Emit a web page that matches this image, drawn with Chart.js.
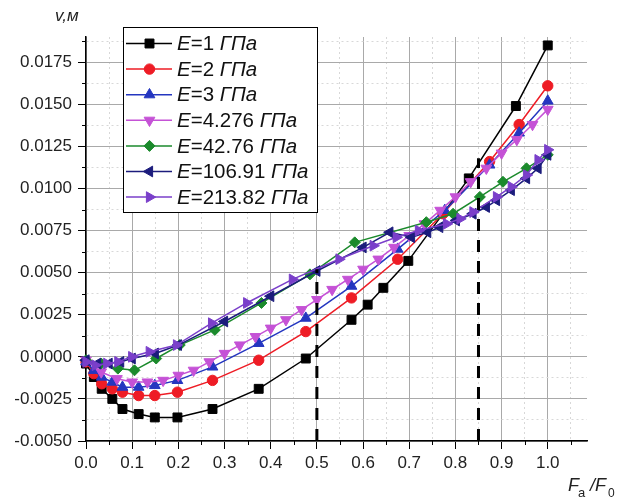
<!DOCTYPE html>
<html>
<head>
<meta charset="utf-8">
<script src="https://cdn.jsdelivr.net/npm/chart.js"></script>
<style>
  body { margin: 0; background: #fff; }
</style>
</head>
<body>
<canvas id="deflectionChart" width="624" height="498"></canvas>
<script>
// Moduli shown in the legend (GPa)
const moduli = ['1', '2', '3', '4.276', '42.76', '106.91', '213.82'];

// E = 1 GPa
const blackX = [0, 0.017, 0.034, 0.057, 0.079, 0.114, 0.149, 0.198, 0.274, 0.374, 0.476, 0.575, 0.610, 0.644, 0.698, 0.829, 0.931, 1.0];
const blackY = [-0.0004, -0.0012, -0.0019, -0.0025, -0.0031, -0.0034, -0.0036, -0.0036, -0.0031, -0.0019, -0.0001, 0.0022, 0.0031, 0.0041, 0.0057, 0.0106, 0.0149, 0.0185];

// E = 2 GPa
const redX = [0, 0.017, 0.034, 0.057, 0.079, 0.114, 0.149, 0.198, 0.274, 0.374, 0.476, 0.575, 0.675, 0.773, 0.874, 0.938, 1.0];
const redY = [-0.0003, -0.0010, -0.0016, -0.0019, -0.0021, -0.0023, -0.0023, -0.0021, -0.0014, -0.0002, 0.0015, 0.0035, 0.0058, 0.0085, 0.0116, 0.0138, 0.0161];

// E = 3 GPa
const blueX = [0, 0.017, 0.034, 0.057, 0.079, 0.114, 0.149, 0.198, 0.274, 0.374, 0.476, 0.575, 0.675, 0.777, 0.874, 0.938, 1.0];
const blueY = [-0.0003, -0.0008, -0.0012, -0.0015, -0.0018, -0.0018, -0.0017, -0.0014, -0.0006, 0.0008, 0.0023, 0.0042, 0.0064, 0.0087, 0.0114, 0.0133, 0.0152];

// E = 4.276 GPa
const magentaX = [0, 0.033, 0.067, 0.1, 0.133, 0.167, 0.2, 0.233, 0.267, 0.3, 0.333, 0.367, 0.4, 0.433, 0.467, 0.5,
                  0.533, 0.567, 0.6, 0.633, 0.667, 0.7, 0.733, 0.767, 0.8, 0.833, 0.867, 0.9, 0.933, 0.967, 1.0];
const magentaY = [-0.0002, -0.0009, -0.0013, -0.0015, -0.0015, -0.0014, -0.0011, -0.0008, -0.0003, 0.0002, 0.0007, 0.0012, 0.0017, 0.0022, 0.0028, 0.0034,
                  0.0040, 0.0046, 0.0052, 0.0058, 0.0065, 0.0072, 0.0079, 0.0087, 0.0095, 0.0104, 0.0112, 0.0121, 0.0129, 0.0138, 0.0147];

// E = 42.76 GPa
const greenX = [0, 0.033, 0.069, 0.105, 0.152, 0.203, 0.279, 0.38, 0.485, 0.582, 0.737, 0.795, 0.853, 0.903, 0.954, 1.0];
const greenY = [-0.0002, -0.0004, -0.0007, -0.0008, -0.0001, 0.0007, 0.0016, 0.0032, 0.0049, 0.0068, 0.0080, 0.0085, 0.0095, 0.0104, 0.0112, 0.0120];

// E = 106.91 GPa
const navyX = [0, 0.025, 0.05, 0.075, 0.1, 0.15, 0.2, 0.3, 0.4, 0.5, 0.6, 0.658, 0.705, 0.74, 0.766, 0.802, 0.838, 0.867, 0.889, 0.921, 0.954, 0.979, 1.0];
const navyY = [-0.0002, -0.0004, -0.0004, -0.0003, -0.0001, 0.0002, 0.0007, 0.0021, 0.0036, 0.0051, 0.0065, 0.0074, 0.0071, 0.0074, 0.0077, 0.0081, 0.0085, 0.0089, 0.0093, 0.0099, 0.0106, 0.0112, 0.0120];

// E = 213.82 GPa
const purpleX = [0, 0.02, 0.045, 0.069, 0.099, 0.137, 0.196, 0.272, 0.348, 0.447, 0.548, 0.622, 0.672, 0.72, 0.781, 0.81, 0.838, 0.889, 0.921, 0.954, 0.979, 1.0];
const purpleY = [-0.0003, -0.0005, -0.0004, -0.0003, 0.0000, 0.0003, 0.0007, 0.0020, 0.0032, 0.0046, 0.0058, 0.0066, 0.0071, 0.0075, 0.0079, 0.0082, 0.0086, 0.0095, 0.0101, 0.0108, 0.0117, 0.0123];

// vertical dashed markers
const markerX = [0.5, 0.85];
const markerTop = [0.0052, 0.0118];

const FONT = '"Liberation Sans", Arial, sans-serif';

function zip(xs, ys) {
    return xs.map((x, i) => ({ x: x, y: ys[i] }));
}

const styles = [
    { color: '#000000', pointStyle: 'rect', radius: 6.3, rotation: 0 },
    { color: '#ee1c25', pointStyle: 'circle', radius: 5.2, rotation: 0 },
    { color: '#2436c0', pointStyle: 'triangle', radius: 6.2, rotation: 0 },
    { color: '#c552d6', pointStyle: 'triangle', radius: 6.2, rotation: 180 },
    { color: '#1b8a2c', pointStyle: 'rectRot', radius: 5.5, rotation: 0 },
    { color: '#1c1c7c', pointStyle: 'triangle', radius: 6.2, rotation: -90 },
    { color: '#7a3fca', pointStyle: 'triangle', radius: 6.2, rotation: 90 }
];

const seriesData = [
    zip(blackX, blackY),
    zip(redX, redY),
    zip(blueX, blueY),
    zip(magentaX, magentaY),
    zip(greenX, greenY),
    zip(navyX, navyY),
    zip(purpleX, purpleY)
];

const datasets = seriesData.map((data, i) => ({
    label: 'E=' + moduli[i] + ' ГПа',
    data: data,
    showLine: true,
    borderColor: styles[i].color,
    backgroundColor: styles[i].color,
    borderWidth: 1.5,
    pointStyle: styles[i].pointStyle,
    pointRadius: styles[i].radius,
    pointRotation: styles[i].rotation,
    pointBorderWidth: 1,
    clip: false,
    order: 10 - i
}));

markerX.forEach((mx, i) => {
    datasets.push({
        label: 'marker' + i,
        data: [{ x: mx, y: -0.005 }, { x: mx, y: markerTop[i] }],
        showLine: true,
        borderColor: '#000',
        borderWidth: 3,
        borderDash: [12, 9],
        pointRadius: 0,
        order: 0
    });
});

// tick positions: majors every 0.1 / 0.0025, minors in between
const xTicks = [];
for (let k = 0; k <= 21; k++) xTicks.push(Math.round(k * 5) / 100);
const yTicks = [];
for (let k = 0; k <= 19; k++) yTicks.push(Math.round((-0.005 + k * 0.00125) * 1e6) / 1e6);

const isMajor = (ctx) => ctx.index % 2 === 0;

const decorations = {
    id: 'decorations',
    afterDraw(chart) {
        const ctx = chart.ctx;
        const xs = chart.scales.x, ys = chart.scales.y;
        const area = chart.chartArea;
        ctx.save();

        // short minor ticks
        ctx.strokeStyle = '#000';
        ctx.lineWidth = 1;
        xs.ticks.forEach((t, i) => {
            if (i % 2 === 0) return;
            const px = Math.round(xs.getPixelForValue(t.value)) + 0.5;
            ctx.beginPath();
            ctx.moveTo(px, area.bottom);
            ctx.lineTo(px, area.bottom + 4);
            ctx.stroke();
        });
        ys.ticks.forEach((t, i) => {
            if (i % 2 === 0) return;
            const py = Math.round(ys.getPixelForValue(t.value)) + 0.5;
            ctx.beginPath();
            ctx.moveTo(area.left, py);
            ctx.lineTo(area.left - 4, py);
            ctx.stroke();
        });

        // axis titles
        ctx.fillStyle = '#222';
        ctx.textBaseline = 'alphabetic';
        ctx.textAlign = 'left';
        ctx.font = 'italic 17px ' + FONT;
        ctx.fillText('v,м', 55, 21);

        ctx.font = 'italic 18px ' + FONT;
        ctx.fillText('F', 568, 491);
        ctx.font = '13px ' + FONT;
        ctx.fillText('a', 578, 497);
        ctx.font = 'italic 18px ' + FONT;
        ctx.fillText('/F', 590, 491);
        ctx.font = '12px ' + FONT;
        ctx.fillText('0', 608, 497);

        // legend
        const lx = 123, ly = 27, lw = 194, lh = 185;
        ctx.fillStyle = '#fff';
        ctx.fillRect(lx, ly, lw, lh);
        ctx.strokeStyle = '#000';
        ctx.lineWidth = 1;
        ctx.strokeRect(lx + 0.5, ly + 0.5, lw, lh);

        moduli.forEach((m, i) => {
            const st = styles[i];
            const cy = 43.5 + i * 25.6;
            ctx.strokeStyle = st.color;
            ctx.fillStyle = st.color;
            ctx.lineWidth = 1.5;
            ctx.beginPath();
            ctx.moveTo(126, cy);
            ctx.lineTo(172, cy);
            ctx.stroke();
            ctx.lineWidth = 1;
            Chart.helpers.drawPoint(ctx, {
                pointStyle: st.pointStyle,
                rotation: st.rotation,
                radius: st.radius,
                borderWidth: 1
            }, 149.5, cy);

            ctx.fillStyle = '#111';
            ctx.textBaseline = 'middle';
            let tx = 177;
            ctx.font = 'italic 20.5px ' + FONT;
            ctx.fillText('E', tx, cy + 1);
            tx += ctx.measureText('E').width;
            ctx.font = '20.5px ' + FONT;
            const mid = '=' + m + ' ';
            ctx.fillText(mid, tx, cy + 1);
            tx += ctx.measureText(mid).width;
            ctx.font = 'italic 20.5px ' + FONT;
            ctx.fillText('ГПа', tx, cy + 1);
        });

        ctx.restore();
    }
};

const chartCtx = document.getElementById('deflectionChart');
new Chart(chartCtx, {
    type: 'scatter',
    data: { datasets: datasets },
    options: {
        responsive: false,
        animation: false,
        layout: { padding: { top: 37, right: 37, left: 0, bottom: 0 } },
        plugins: {
            legend: { display: false },
            tooltip: { enabled: false }
        },
        scales: {
            x: {
                type: 'linear',
                min: 0,
                max: 1.085,
                afterBuildTicks: (scale) => { scale.ticks = xTicks.map(v => ({ value: v })); },
                afterFit: (scale) => { scale.height = 57; },
                ticks: {
                    autoSkip: false,
                    maxRotation: 0,
                    padding: 4,
                    color: '#222',
                    font: { family: FONT, size: 17 },
                    callback: (value, index) => index % 2 === 0 ? Number(value).toFixed(1) : ''
                },
                grid: {
                    color: (ctx) => isMajor(ctx) ? '#a9a9a9' : '#d8d8d8',
                    lineWidth: 1,
                    tickLength: 8,
                    tickColor: (ctx) => isMajor(ctx) ? '#000' : 'rgba(0,0,0,0)'
                },
                border: {
                    color: '#000',
                    width: 1.5,
                    dash: (ctx) => (ctx.index === undefined || isMajor(ctx)) ? [] : [2, 3]
                }
            },
            y: {
                type: 'linear',
                min: -0.005,
                max: 0.019,
                afterBuildTicks: (scale) => { scale.ticks = yTicks.map(v => ({ value: v })); },
                afterFit: (scale) => { scale.width = 86; },
                ticks: {
                    autoSkip: false,
                    padding: 6,
                    color: '#222',
                    font: { family: FONT, size: 17 },
                    callback: (value, index) => index % 2 === 0 ? Number(value).toFixed(4) : ''
                },
                grid: {
                    color: (ctx) => isMajor(ctx) ? '#a9a9a9' : '#d8d8d8',
                    lineWidth: 1,
                    tickLength: 8,
                    tickColor: (ctx) => isMajor(ctx) ? '#000' : 'rgba(0,0,0,0)'
                },
                border: {
                    color: '#000',
                    width: 1.5,
                    dash: (ctx) => (ctx.index === undefined || isMajor(ctx)) ? [] : [2, 3]
                }
            }
        }
    },
    plugins: [decorations]
});
</script>
</body>
</html>
